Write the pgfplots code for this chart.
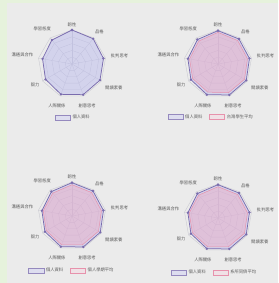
\documentclass[border=0pt]{standalone}
\usepackage{pgfplots}
\pgfplotsset{compat=1.18}
\usepgfplotslibrary{polar}
\usepackage{fontspec}
\setmainfont{Noto Sans CJK TC}
\definecolor{bgray}{HTML}{EBEBEB}
\definecolor{bgreen}{HTML}{E6F2DC}
\definecolor{gridc}{HTML}{C8C8D0}
\definecolor{bluefill}{HTML}{BDBDEE}
\definecolor{blueedge}{HTML}{7A6CAE}
\definecolor{pinkfill}{HTML}{F2A6BE}
\definecolor{pinkedge}{HTML}{E792AC}
\definecolor{txt}{HTML}{5A5A5A}
\tikzset{lab/.style={font=\fontsize{4.3}{5}\selectfont, text=txt, inner sep=0pt}}
\newcommand{\radargrid}{%
  \addplot[gridc,line width=0.35pt,forget plot] coordinates {(90,0.2)(50,0.2)(10,0.2)(330,0.2)(290,0.2)(250,0.2)(210,0.2)(170,0.2)(130,0.2)(90,0.2)};
  \addplot[gridc,line width=0.35pt,forget plot] coordinates {(90,0.4)(50,0.4)(10,0.4)(330,0.4)(290,0.4)(250,0.4)(210,0.4)(170,0.4)(130,0.4)(90,0.4)};
  \addplot[gridc,line width=0.35pt,forget plot] coordinates {(90,0.6)(50,0.6)(10,0.6)(330,0.6)(290,0.6)(250,0.6)(210,0.6)(170,0.6)(130,0.6)(90,0.6)};
  \addplot[gridc,line width=0.35pt,forget plot] coordinates {(90,0.8)(50,0.8)(10,0.8)(330,0.8)(290,0.8)(250,0.8)(210,0.8)(170,0.8)(130,0.8)(90,0.8)};
  \addplot[gridc,line width=0.35pt,forget plot] coordinates {(90,1)(50,1)(10,1)(330,1)(290,1)(250,1)(210,1)(170,1)(130,1)(90,1)};
  \addplot[gridc,line width=0.35pt,forget plot] coordinates {(90,0)(90,1)};
  \addplot[gridc,line width=0.35pt,forget plot] coordinates {(50,0)(50,1)};
  \addplot[gridc,line width=0.35pt,forget plot] coordinates {(10,0)(10,1)};
  \addplot[gridc,line width=0.35pt,forget plot] coordinates {(330,0)(330,1)};
  \addplot[gridc,line width=0.35pt,forget plot] coordinates {(290,0)(290,1)};
  \addplot[gridc,line width=0.35pt,forget plot] coordinates {(250,0)(250,1)};
  \addplot[gridc,line width=0.35pt,forget plot] coordinates {(210,0)(210,1)};
  \addplot[gridc,line width=0.35pt,forget plot] coordinates {(170,0)(170,1)};
  \addplot[gridc,line width=0.35pt,forget plot] coordinates {(130,0)(130,1)};
}
\newcommand{\radarlabels}{%
  \node[lab] at (axis cs:90,1.14) {韌性};
  \node[lab] at (axis cs:50,1.25) {品格};
  \node[lab] at (axis cs:10,1.42) {批判思考};
  \node[lab] at (axis cs:330,1.42) {閱讀素養};
  \node[lab] at (axis cs:290,1.3) {創意思考};
  \node[lab] at (axis cs:250,1.3) {人際關係};
  \node[lab] at (axis cs:210,1.25) {毅力};
  \node[lab] at (axis cs:170,1.48) {溝通與合作};
  \node[lab] at (axis cs:130,1.36) {學習態度};
}
\pgfplotsset{
  radar/.style={hide axis, scale only axis, width=68pt, height=68pt,
    xmin=0, xmax=360, ymin=0, ymax=1, clip=false,
    legend style={draw=none, fill=none, font=\fontsize{4.3}{5}\selectfont\color{txt},
      legend columns=2, anchor=center, inner sep=0pt,
      /tikz/every even column/.append style={column sep=5pt}}},
  blueser/.style={draw=blueedge, line width=0.75pt, fill=bluefill, fill opacity=0.5,
    mark=*, mark size=0.75pt, mark options={fill=blueedge, fill opacity=1},
    legend image code/.code={\draw[draw=blueedge!80, fill=bluefill!70, line width=0.5pt] (0pt,-2.6pt) rectangle (15pt,2.6pt);}},
  pinkser/.style={draw=pinkedge, line width=0.5pt, fill=pinkfill, fill opacity=0.4,
    legend image code/.code={\draw[draw=pinkedge, fill=pinkfill!50, line width=0.5pt] (0pt,-2.6pt) rectangle (15pt,2.6pt);}},
}
\begin{document}
\begin{tikzpicture}
\useasboundingbox (0pt,0pt) rectangle (278pt,283pt);
\fill[bgray] (0pt,0pt) rectangle (278pt,283pt);
\fill[bgreen] (0pt,0pt) rectangle (7pt,283pt);
\fill[bgreen] (0pt,280pt) rectangle (278pt,283pt);
% panel 1
\begin{polaraxis}[radar, at={(72pt,219pt)}, anchor=center,
  legend style={at={(axis description cs:0.52,-0.29)}}]
\radargrid
\addplot[blueser] coordinates {(90,1.0)(50,0.97)(10,0.94)(330,0.95)(290,0.96)(250,0.95)(210,0.9)(170,0.88)(130,0.92)(90,1.0)};
\addlegendentry{個人資料}
\radarlabels
\end{polaraxis}
% panel 2
\begin{polaraxis}[radar, at={(218pt,219pt)}, anchor=center,
  legend style={at={(axis description cs:0.4,-0.28)}}]
\radargrid
\addplot[blueser] coordinates {(90,0.98)(50,0.96)(10,0.94)(330,0.96)(290,0.97)(250,0.96)(210,0.92)(170,0.9)(130,0.94)(90,0.98)};
\addplot[pinkser] coordinates {(90,0.93)(50,0.9)(10,0.88)(330,0.9)(290,0.9)(250,0.88)(210,0.86)(170,0.85)(130,0.88)(90,0.93)};
\addlegendentry{個人資料}
\addlegendentry{台灣學生平均}
\radarlabels
\end{polaraxis}
% panel 3
\begin{polaraxis}[radar, at={(72pt,67pt)}, anchor=center,
  legend style={at={(axis description cs:0.5,-0.3)}}]
\radargrid
\addplot[blueser] coordinates {(90,0.98)(50,0.96)(10,0.94)(330,0.96)(290,0.97)(250,0.96)(210,0.92)(170,0.9)(130,0.94)(90,0.98)};
\addplot[pinkser] coordinates {(90,0.92)(50,0.9)(10,0.88)(330,0.9)(290,0.9)(250,0.9)(210,0.87)(170,0.86)(130,0.88)(90,0.92)};
\addlegendentry{個人資料}
\addlegendentry{個人學期平均}
\radarlabels
\end{polaraxis}
% panel 4
\begin{polaraxis}[radar, at={(218pt,65pt)}, anchor=center,
  legend style={at={(axis description cs:0.45,-0.3)}}]
\radargrid
\addplot[blueser] coordinates {(90,0.98)(50,0.96)(10,0.94)(330,0.96)(290,0.97)(250,0.96)(210,0.92)(170,0.9)(130,0.94)(90,0.98)};
\addplot[pinkser] coordinates {(90,0.92)(50,0.9)(10,0.88)(330,0.9)(290,0.9)(250,0.9)(210,0.87)(170,0.86)(130,0.88)(90,0.92)};
\addlegendentry{個人資料}
\addlegendentry{系所同儕平均}
\radarlabels
\end{polaraxis}
\end{tikzpicture}
\end{document}
